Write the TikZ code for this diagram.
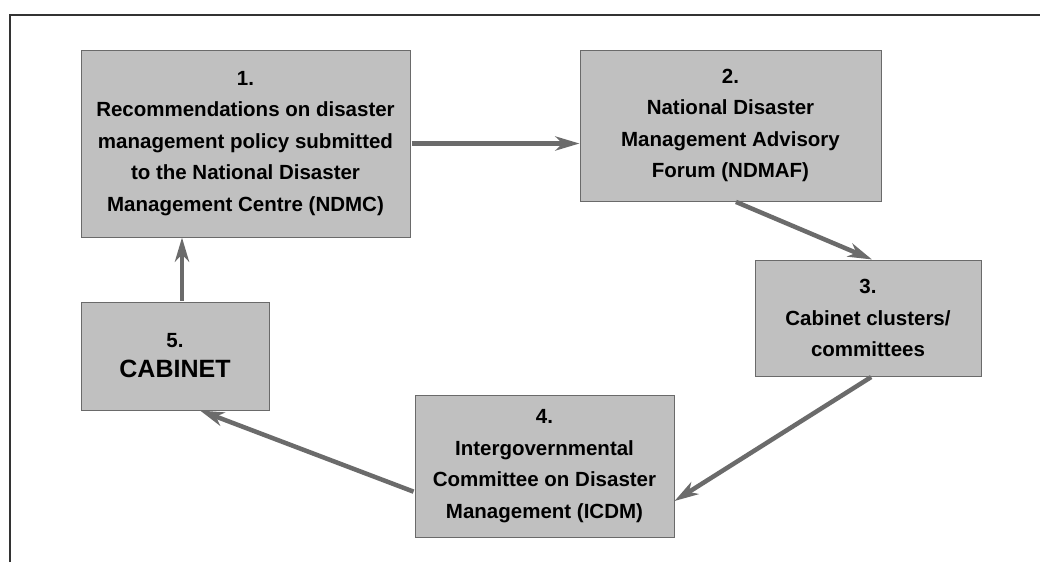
\documentclass[tikz,border=0pt]{standalone}
\usepackage{fontspec}
\setmainfont{Liberation Sans}
\usetikzlibrary{arrows.meta}
\definecolor{boxfill}{HTML}{C0C0C0}
\definecolor{boxline}{HTML}{6A6A6A}
\definecolor{arrowc}{HTML}{6B6B6B}
\begin{document}
\begin{tikzpicture}[x=1pt,y=-1pt,
  stagebox/.style={draw=boxline, line width=1pt, fill=boxfill, inner sep=0pt, align=center,
    font=\bfseries\fontsize{20.5}{31.5}\selectfont},
  flow/.style={draw=arrowc, line width=4.5pt, -{Stealth[length=24pt,width=14pt,inset=7pt]}, shorten <=1pt}
]
\useasboundingbox (0,0) rectangle (1040,562);
\fill[white] (0,0) rectangle (1040,562);
\draw[line width=1.5pt, black!80] (10,562) -- (10,15) -- (1040,15);

\node[stagebox, minimum width=329pt, minimum height=187pt] (b1) at (245.5,143.5)
  {1.\\Recommendations on disaster\\management policy submitted\\to the National Disaster\\Management Centre (NDMC)};
\node[stagebox, minimum width=301pt, minimum height=151pt] (b2) at (730.5,125.5)
  {2.\\National Disaster\\Management Advisory\\Forum (NDMAF)};
\node[stagebox, minimum width=226pt, minimum height=116pt] (b3) at (868,318)
  {3.\\Cabinet clusters/\\committees};
\node[stagebox, minimum width=259pt, minimum height=142pt] (b4) at (544.5,466)
  {4.\\Intergovernmental\\Committee on Disaster\\Management (ICDM)};
\node[stagebox, minimum width=188pt, minimum height=108pt, font=\bfseries\fontsize{20.5}{30}\selectfont] (b5) at (175,356)
  {5.\\{\fontsize{25}{30}\selectfont CABINET}};

\draw[flow] (b1.east) -- (b2.west |- b1.east);
\draw[flow] ([xshift=4.5pt]b2.south) -- ([xshift=4pt]b3.north);
\draw[flow] ([xshift=4pt]b3.south) -- ([yshift=-35pt]b4.east);
\draw[flow] ([yshift=-26pt]b4.west) -- ([xshift=25pt]b5.south);
\draw[flow] ([xshift=7pt]b5.north) -- ([xshift=7pt]b5.north |- b1.south);
\end{tikzpicture}
\end{document}
